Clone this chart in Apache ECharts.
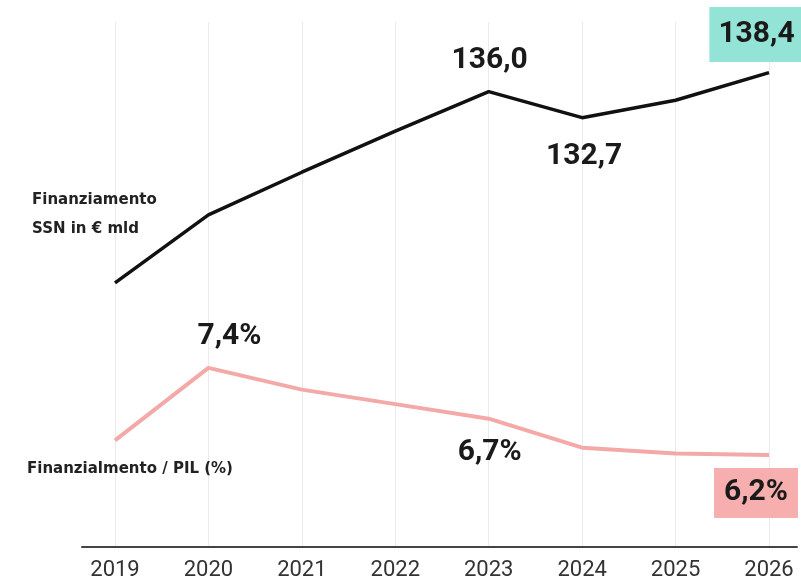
<!DOCTYPE html>
<html>
<head>
<meta charset="utf-8">
<script src="https://cdn.jsdelivr.net/npm/echarts@6/dist/echarts.min.js"></script>
<style>html,body{margin:0;padding:0;background:#fff}#c{width:801px;height:586px}</style>
</head>
<body>
<div id="c"></div>
<script>
var years = ['2019','2020','2021','2022','2023','2024','2025','2026'];
var funding = [111.8, 120.4, 125.8, 131.0, 136.0, 132.7, 134.9, 138.4];
var gdpShare = [6.4, 7.4, 7.1, 6.9, 6.7, 6.3, 6.22, 6.2];
var fundingLabelled = [4, 5, 7];
var shareLabelled = [1, 4, 7];

var chart = echarts.init(document.getElementById('c'));

var numFont = {fontFamily: 'Roboto', fontWeight: 'bold', fontSize: 30, color: '#1a1a1a', lineHeight: 30};

function fmtNum(v) { return v.toFixed(1).replace('.', ','); }

var fundingLabelCfg = {
  4: {offset: [1, -31]},
  5: {offset: [2, 39]},
  7: {offset: [-12, -38], backgroundColor: '#93e3d6', padding: [12, 10, 13, 9]}
};
var shareLabelCfg = {
  1: {offset: [21, -31]},
  4: {offset: [1, 34]},
  7: {offset: [-13, 38], backgroundColor: '#f6afae', padding: [10, 10, 10, 10]}
};

var fundingData = funding.map(function (v, i) {
  var item = {value: v};
  if (fundingLabelled.indexOf(i) >= 0) {
    item.label = Object.assign({show: true, position: 'inside', formatter: fmtNum(v)}, numFont, fundingLabelCfg[i]);
  }
  return item;
});
var shareData = gdpShare.map(function (v, i) {
  var item = {value: v};
  if (shareLabelled.indexOf(i) >= 0) {
    item.label = Object.assign({show: true, position: 'inside', formatter: fmtNum(v) + '%'}, numFont, shareLabelCfg[i]);
  }
  return item;
});

chart.setOption({
  animation: false,
  backgroundColor: '#ffffff',
  title: [
    {text: 'Finanziamento\nSSN in € mld', left: 27, top: 181,
     textStyle: {fontFamily: 'DejaVu Sans', fontWeight: 'bold', fontSize: 15, lineHeight: 29, color: '#222'}},
    {text: 'Finanzialmento / PIL (%)', left: 22, top: 454,
     textStyle: {fontFamily: 'DejaVu Sans', fontWeight: 'bold', fontSize: 15, lineHeight: 20, color: '#222'}}
  ],
  grid: [
    {left: 115, right: 32, top: 22, bottom: 39},
    {left: 82, right: 4, top: 22, bottom: 39}
  ],
  xAxis: [
    {type: 'category', gridIndex: 0, data: years, boundaryGap: false,
     axisLine: {show: false}, axisTick: {show: false},
     axisLabel: {fontFamily: 'Roboto', fontSize: 22, color: '#333', margin: 12},
     splitLine: {show: true, lineStyle: {color: '#ebebeb', width: 1}}},
    {type: 'value', gridIndex: 1, min: 0, max: 1,
     axisLine: {show: true, onZero: false, lineStyle: {color: '#444', width: 2}},
     axisTick: {show: false}, axisLabel: {show: false}, splitLine: {show: false}}
  ],
  yAxis: [
    {type: 'value', gridIndex: 0, min: 78.4, max: 144.8, show: false, splitLine: {show: false}},
    {type: 'value', gridIndex: 0, min: 4.93, max: 12.17, show: false, splitLine: {show: false}},
    {type: 'value', gridIndex: 1, min: 0, max: 1, show: false, splitLine: {show: false}}
  ],
  series: [
    {type: 'line', xAxisIndex: 0, yAxisIndex: 1, data: shareData,
     symbol: 'circle', symbolSize: 0.1, showSymbol: true,
     itemStyle: {color: 'rgba(0,0,0,0)'},
     lineStyle: {color: '#f4a9a9', width: 4}, z: 2},
    {type: 'line', xAxisIndex: 0, yAxisIndex: 0, data: fundingData,
     symbol: 'circle', symbolSize: 0.1, showSymbol: true,
     itemStyle: {color: 'rgba(0,0,0,0)'},
     lineStyle: {color: '#111', width: 3.5}, z: 3}
  ]
});
</script>
</body>
</html>
